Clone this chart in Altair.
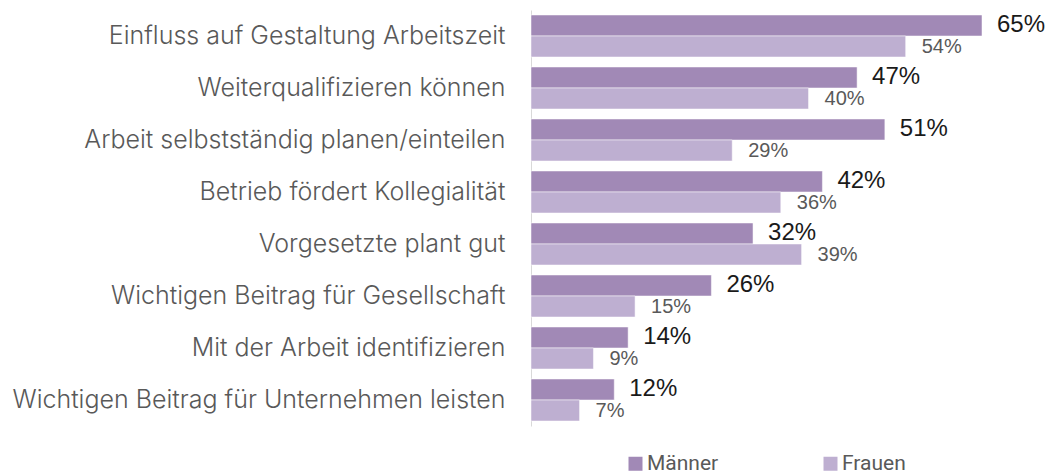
import altair as alt
import pandas as pd

categories = [
    "Einfluss auf Gestaltung Arbeitszeit",
    "Weiterqualifizieren können",
    "Arbeit selbstständig planen/einteilen",
    "Betrieb fördert Kollegialität",
    "Vorgesetzte plant gut",
    "Wichtigen Beitrag für Gesellschaft",
    "Mit der Arbeit identifizieren",
    "Wichtigen Beitrag für Unternehmen leisten",
]
maenner = [65, 47, 51, 42, 32, 26, 14, 12]
frauen = [54, 40, 29, 36, 39, 15, 9, 7]
series = ["Männer", "Frauen"]
colors = ["#A189B6", "#BEAFD1"]

rows = []
for c, m, f in zip(categories, maenner, frauen):
    rows.append({"cat": c, "series": "Männer", "value": m, "label": f"{m}%"})
    rows.append({"cat": c, "series": "Frauen", "value": f, "label": f"{f}%"})
df = pd.DataFrame(rows)

y = alt.Y("cat:N", sort=categories, title=None,
          scale=alt.Scale(paddingInner=0.192, paddingOuter=0.096),
          axis=alt.Axis(domainColor="#d9d9d9", domainWidth=1, ticks=False,
                        labelFontSize=25, labelColor="#595959", labelFont="Inter",
                        labelFontWeight=300,
                        labelPadding=26, labelLimit=600))
yoff = alt.YOffset("series:N", sort=series, scale=alt.Scale(domain=series, paddingInner=0, paddingOuter=0))
x = alt.X("value:Q", scale=alt.Scale(domain=[0, 65], nice=False, zero=True), axis=None)

base = alt.Chart(df)

bars = base.mark_bar(stroke="white", strokeWidth=0.5).encode(
    y=y, yOffset=yoff, x=x,
    color=alt.Color("series:N", sort=series,
                    scale=alt.Scale(domain=series, range=colors),
                    legend=alt.Legend(title=None, orient="none", direction="horizontal",
                                      legendX=94, legendY=443, symbolType="square",
                                      symbolSize=196, symbolStrokeWidth=0,
                                      labelFontSize=21, labelColor="#595959", labelFont="Roboto",
                                      columnPadding=101, labelOffset=1, padding=0)),
)

t_m = base.transform_filter(alt.datum.series == "Männer").mark_text(
    align="left", baseline="middle", dx=15, fontSize=24, font="Liberation Sans", color="#1a1a1a"
).encode(y=y, yOffset=yoff, x=x, text="label:N")

t_f = base.transform_filter(alt.datum.series == "Frauen").mark_text(
    align="left", baseline="middle", dx=16, fontSize=20, font="Liberation Sans", color="#595959"
).encode(y=y, yOffset=yoff, x=x, text="label:N")

chart = alt.layer(bars, t_m, t_f).properties(
    width=451, height=416,
    background="white",
    autosize=alt.AutoSizeParams(type="none"),
    padding={"left": 523, "top": 2, "right": 64, "bottom": 49},
).configure_view(stroke=None)

chart.save("out.html", embed_options={"renderer": "svg", "actions": False})
